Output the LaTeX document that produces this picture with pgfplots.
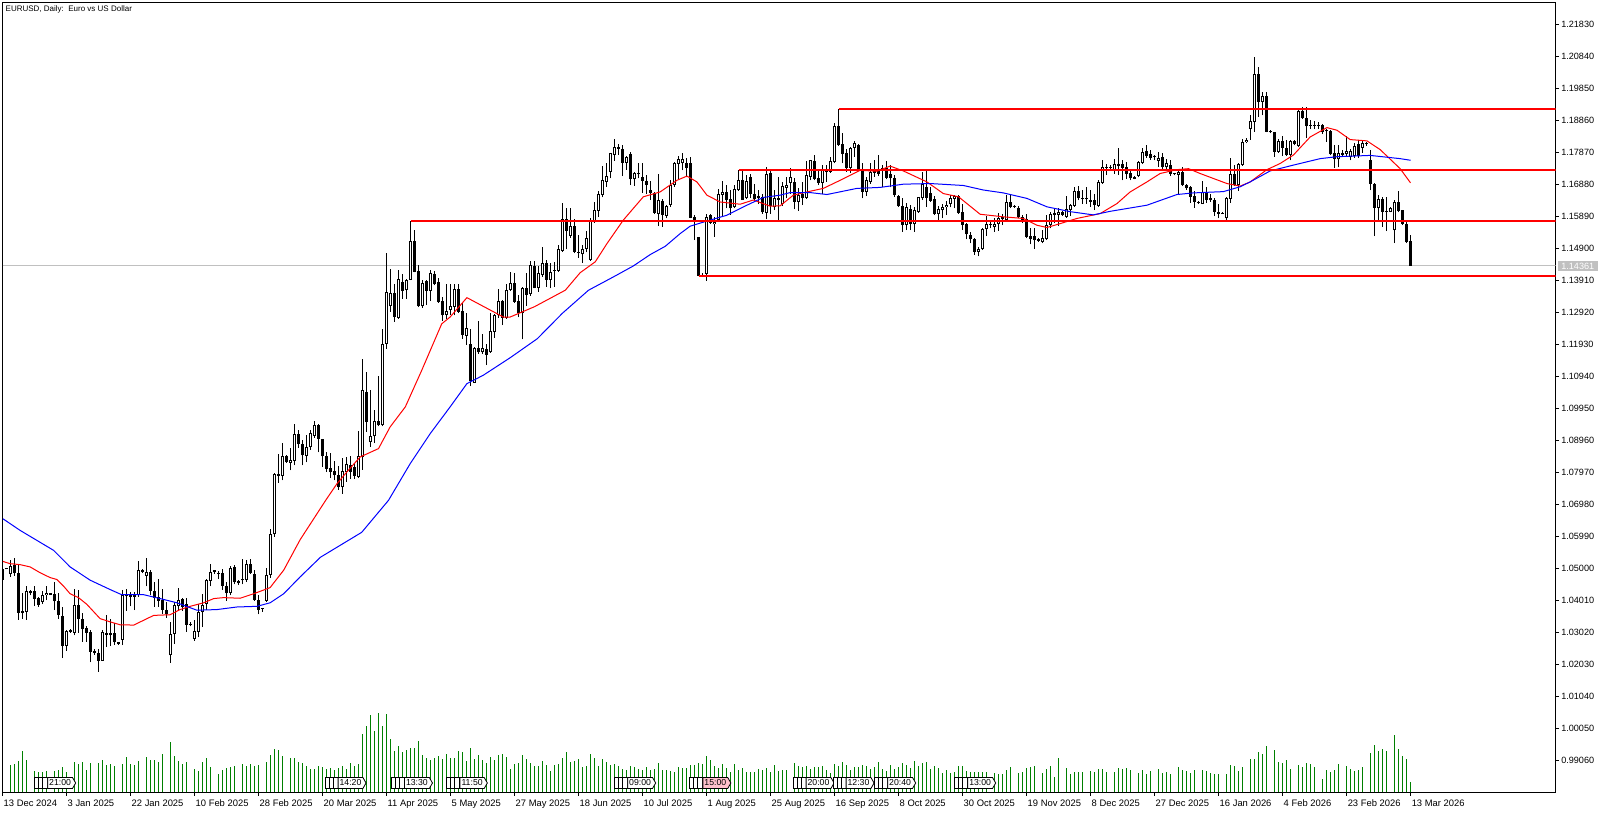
\documentclass[border=0pt]{standalone}
\usepackage{fontspec}
\setmainfont{Liberation Sans}
\usepackage{pgfplots}
\usepackage{pgfplotstable}
\pgfplotsset{compat=1.18}
\usetikzlibrary{shapes.symbols}
\definecolor{mtred}{RGB}{255,0,0}
\definecolor{mtblue}{RGB}{0,0,255}
\definecolor{mtgreen}{RGB}{0,128,0}
\definecolor{mtgray}{RGB}{192,192,192}
\definecolor{mtpink}{RGB}{255,192,203}
\pgfplotstableread{
i o h l c
0 1.0500 1.0507 1.0464 1.0466
1 1.0497 1.0503 1.0497 1.0503
2 1.0483 1.0526 1.0474 1.0509
3 1.0510 1.0534 1.0478 1.0486
4 1.0487 1.0510 1.0342 1.0363
5 1.0368 1.0424 1.0344 1.0363
6 1.0367 1.0447 1.0342 1.0429
7 1.0429 1.0435 1.0417 1.0423
8 1.0429 1.0445 1.0384 1.0406
9 1.0409 1.0412 1.0381 1.0387
10 1.0397 1.0429 1.0390 1.0419
11 1.0418 1.0445 1.0402 1.0425
12 1.0425 1.0425 1.0418 1.0418
13 1.0422 1.0459 1.0371 1.0398
14 1.0398 1.0424 1.0344 1.0356
15 1.0352 1.0381 1.0223 1.0260
16 1.0260 1.0309 1.0245 1.0306
17 1.0309 1.0314 1.0302 1.0304
18 1.0301 1.0436 1.0293 1.0388
19 1.0388 1.0433 1.0301 1.0344
20 1.0345 1.0363 1.0273 1.0314
21 1.0315 1.0321 1.0273 1.0301
22 1.0303 1.0311 1.0210 1.0242
23 1.0244 1.0250 1.0233 1.0239
24 1.0239 1.0252 1.0180 1.0214
25 1.0214 1.0309 1.0214 1.0303
26 1.0302 1.0355 1.0257 1.0295
27 1.0301 1.0345 1.0260 1.0293
28 1.0300 1.0332 1.0263 1.0272
29 1.0274 1.0274 1.0264 1.0266
30 1.0279 1.0435 1.0263 1.0419
31 1.0419 1.0436 1.0369 1.0414
32 1.0419 1.0428 1.0383 1.0413
33 1.0419 1.0428 1.0371 1.0413
34 1.0419 1.0522 1.0412 1.0495
35 1.0495 1.0500 1.0486 1.0490
36 1.0477 1.0534 1.0445 1.0488
37 1.0488 1.0495 1.0417 1.0431
38 1.0431 1.0458 1.0381 1.0410
39 1.0412 1.0469 1.0381 1.0400
40 1.0404 1.0438 1.0358 1.0373
41 1.0373 1.0397 1.0348 1.0358
42 1.0231 1.0336 1.0208 1.0297
43 1.0297 1.0397 1.0268 1.0386
44 1.0383 1.0441 1.0369 1.0404
45 1.0406 1.0410 1.0369 1.0381
46 1.0389 1.0410 1.0304 1.0326
47 1.0329 1.0335 1.0321 1.0325
48 1.0282 1.0340 1.0276 1.0308
49 1.0305 1.0389 1.0288 1.0365
50 1.0364 1.0422 1.0319 1.0387
51 1.0391 1.0468 1.0371 1.0464
52 1.0462 1.0515 1.0445 1.0490
53 1.0494 1.0495 1.0484 1.0490
54 1.0485 1.0492 1.0468 1.0483
55 1.0485 1.0500 1.0433 1.0446
56 1.0447 1.0457 1.0400 1.0424
57 1.0424 1.0507 1.0417 1.0503
58 1.0505 1.0510 1.0451 1.0458
59 1.0461 1.0466 1.0449 1.0454
60 1.0463 1.0528 1.0451 1.0466
61 1.0464 1.0525 1.0458 1.0515
62 1.0515 1.0528 1.0484 1.0486
63 1.0484 1.0495 1.0400 1.0402
64 1.0404 1.0419 1.0358 1.0373
65 1.0376 1.0377 1.0367 1.0375
66 1.0400 1.0503 1.0396 1.0481
67 1.0480 1.0623 1.0472 1.0608
68 1.0606 1.0795 1.0598 1.0791
69 1.0791 1.0853 1.0765 1.0786
70 1.0787 1.0889 1.0773 1.0847
71 1.0847 1.0850 1.0827 1.0829
72 1.0826 1.0874 1.0804 1.0835
73 1.0833 1.0948 1.0819 1.0917
74 1.0917 1.0930 1.0874 1.0884
75 1.0886 1.0897 1.0819 1.0850
76 1.0848 1.0912 1.0828 1.0875
77 1.0875 1.0930 1.0868 1.0920
78 1.0910 1.0956 1.0905 1.0945
79 1.0943 1.0946 1.0859 1.0901
80 1.0900 1.0902 1.0814 1.0847
81 1.0847 1.0861 1.0799 1.0808
82 1.0812 1.0858 1.0780 1.0798
83 1.0801 1.0832 1.0773 1.0788
84 1.0788 1.0818 1.0744 1.0752
85 1.0752 1.0843 1.0732 1.0801
86 1.0799 1.0845 1.0768 1.0824
87 1.0821 1.0849 1.0778 1.0799
88 1.0814 1.0824 1.0778 1.0787
89 1.0783 1.0924 1.0780 1.0847
90 1.0845 1.1147 1.0806 1.1051
91 1.1046 1.1107 1.0922 1.0953
92 1.0891 1.1051 1.0876 1.0909
93 1.0909 1.0991 1.0888 1.0955
94 1.0956 1.1095 1.0940 1.0943
95 1.0943 1.1242 1.0940 1.1196
96 1.1195 1.1476 1.1180 1.1357
97 1.1311 1.1426 1.1294 1.1351
98 1.1351 1.1379 1.1263 1.1278
99 1.1276 1.1425 1.1273 1.1397
100 1.1385 1.1410 1.1334 1.1358
101 1.1361 1.1397 1.1335 1.1392
102 1.1393 1.1575 1.1392 1.1512
103 1.1512 1.1548 1.1416 1.1418
104 1.1419 1.1440 1.1309 1.1312
105 1.1311 1.1394 1.1307 1.1384
106 1.1389 1.1394 1.1315 1.1358
107 1.1358 1.1425 1.1327 1.1415
108 1.1412 1.1419 1.1376 1.1379
109 1.1385 1.1400 1.1322 1.1324
110 1.1327 1.1340 1.1266 1.1283
111 1.1284 1.1381 1.1273 1.1296
112 1.1301 1.1379 1.1283 1.1313
113 1.1309 1.1379 1.1283 1.1366
114 1.1366 1.1379 1.1290 1.1294
115 1.1296 1.1322 1.1211 1.1222
116 1.1220 1.1292 1.1193 1.1245
117 1.1196 1.1242 1.1064 1.1080
118 1.1075 1.1185 1.1074 1.1183
119 1.1183 1.1265 1.1165 1.1169
120 1.1169 1.1227 1.1163 1.1183
121 1.1180 1.1196 1.1129 1.1161
122 1.1169 1.1290 1.1167 1.1236
123 1.1232 1.1288 1.1214 1.1283
124 1.1283 1.1364 1.1276 1.1327
125 1.1327 1.1330 1.1253 1.1276
126 1.1275 1.1381 1.1273 1.1361
127 1.1361 1.1418 1.1358 1.1384
128 1.1384 1.1413 1.1322 1.1325
129 1.1327 1.1346 1.1277 1.1289
130 1.1289 1.1370 1.1209 1.1367
131 1.1367 1.1413 1.1312 1.1346
132 1.1348 1.1452 1.1344 1.1439
133 1.1436 1.1452 1.1367 1.1367
134 1.1369 1.1436 1.1356 1.1413
135 1.1408 1.1495 1.1403 1.1444
136 1.1444 1.1454 1.1372 1.1394
137 1.1394 1.1444 1.1367 1.1418
138 1.1423 1.1449 1.1372 1.1419
139 1.1421 1.1501 1.1418 1.1487
140 1.1483 1.1632 1.1479 1.1580
141 1.1580 1.1614 1.1487 1.1544
142 1.1528 1.1614 1.1524 1.1559
143 1.1559 1.1580 1.1475 1.1479
144 1.1479 1.1531 1.1462 1.1477
145 1.1472 1.1500 1.1446 1.1490
146 1.1488 1.1544 1.1478 1.1522
147 1.1454 1.1585 1.1452 1.1574
148 1.1571 1.1634 1.1569 1.1609
149 1.1607 1.1668 1.1588 1.1658
150 1.1656 1.1745 1.1648 1.1701
151 1.1696 1.1755 1.1681 1.1714
152 1.1727 1.1787 1.1707 1.1787
153 1.1780 1.1830 1.1761 1.1805
154 1.1803 1.1813 1.1780 1.1799
155 1.1797 1.1810 1.1714 1.1755
156 1.1755 1.1776 1.1734 1.1772
157 1.1782 1.1789 1.1686 1.1704
158 1.1704 1.1727 1.1684 1.1725
159 1.1721 1.1755 1.1707 1.1719
160 1.1710 1.1753 1.1662 1.1699
161 1.1699 1.1717 1.1660 1.1687
162 1.1670 1.1699 1.1640 1.1662
163 1.1662 1.1665 1.1596 1.1600
164 1.1596 1.1722 1.1559 1.1640
165 1.1638 1.1644 1.1557 1.1593
166 1.1590 1.1624 1.1583 1.1621
167 1.1624 1.1703 1.1619 1.1688
168 1.1685 1.1758 1.1681 1.1753
169 1.1751 1.1776 1.1706 1.1768
170 1.1753 1.1787 1.1732 1.1768
171 1.1753 1.1770 1.1710 1.1740
172 1.1753 1.1772 1.1583 1.1585
173 1.1586 1.1593 1.1516 1.1572
174 1.1527 1.1527 1.1404 1.1405
175 1.1409 1.1413 1.1402 1.1405
176 1.1411 1.1596 1.1390 1.1586
177 1.1593 1.1596 1.1567 1.1570
178 1.1565 1.1588 1.1526 1.1572
179 1.1578 1.1673 1.1572 1.1660
180 1.1656 1.1698 1.1588 1.1664
181 1.1664 1.1686 1.1614 1.1640
182 1.1642 1.1670 1.1593 1.1614
183 1.1617 1.1686 1.1614 1.1673
184 1.1670 1.1732 1.1668 1.1703
185 1.1703 1.1732 1.1640 1.1640
186 1.1645 1.1717 1.1642 1.1700
187 1.1710 1.1722 1.1645 1.1658
188 1.1660 1.1691 1.1634 1.1643
189 1.1652 1.1670 1.1627 1.1645
190 1.1648 1.1660 1.1598 1.1602
191 1.1600 1.1743 1.1580 1.1720
192 1.1724 1.1732 1.1598 1.1620
193 1.1617 1.1671 1.1609 1.1645
194 1.1645 1.1710 1.1578 1.1640
195 1.1627 1.1696 1.1621 1.1683
196 1.1678 1.1710 1.1645 1.1686
197 1.1693 1.1738 1.1660 1.1710
198 1.1696 1.1707 1.1611 1.1634
199 1.1634 1.1676 1.1607 1.1657
200 1.1660 1.1696 1.1624 1.1645
201 1.1647 1.1761 1.1644 1.1717
202 1.1712 1.1765 1.1701 1.1763
203 1.1762 1.1779 1.1701 1.1706
204 1.1707 1.1734 1.1686 1.1693
205 1.1693 1.1747 1.1658 1.1732
206 1.1732 1.1748 1.1696 1.1727
207 1.1727 1.1774 1.1725 1.1760
208 1.1757 1.1879 1.1753 1.1869
209 1.1869 1.1921 1.1807 1.1810
210 1.1813 1.1846 1.1753 1.1782
211 1.1784 1.1797 1.1727 1.1738
212 1.1740 1.1803 1.1724 1.1802
213 1.1802 1.1822 1.1774 1.1815
214 1.1810 1.1813 1.1730 1.1734
215 1.1736 1.1755 1.1645 1.1665
216 1.1665 1.1710 1.1652 1.1701
217 1.1695 1.1753 1.1691 1.1727
218 1.1732 1.1763 1.1712 1.1725
219 1.1732 1.1779 1.1714 1.1722
220 1.1730 1.1748 1.1681 1.1738
221 1.1738 1.1760 1.1704 1.1709
222 1.1720 1.1748 1.1679 1.1708
223 1.1708 1.1717 1.1650 1.1655
224 1.1652 1.1655 1.1619 1.1621
225 1.1623 1.1647 1.1542 1.1562
226 1.1562 1.1631 1.1547 1.1617
227 1.1613 1.1624 1.1547 1.1567
228 1.1565 1.1617 1.1542 1.1609
229 1.1604 1.1650 1.1600 1.1648
230 1.1645 1.1727 1.1640 1.1691
231 1.1679 1.1730 1.1619 1.1647
232 1.1662 1.1679 1.1634 1.1638
233 1.1642 1.1652 1.1593 1.1596
234 1.1596 1.1621 1.1578 1.1612
235 1.1608 1.1627 1.1583 1.1619
236 1.1617 1.1637 1.1593 1.1624
237 1.1627 1.1655 1.1617 1.1646
238 1.1644 1.1657 1.1614 1.1652
239 1.1651 1.1655 1.1598 1.1600
240 1.1603 1.1627 1.1547 1.1563
241 1.1565 1.1570 1.1518 1.1534
242 1.1531 1.1542 1.1506 1.1518
243 1.1519 1.1521 1.1470 1.1480
244 1.1480 1.1495 1.1466 1.1488
245 1.1488 1.1552 1.1485 1.1549
246 1.1549 1.1590 1.1528 1.1565
247 1.1564 1.1573 1.1552 1.1562
248 1.1555 1.1583 1.1542 1.1565
249 1.1565 1.1600 1.1545 1.1583
250 1.1580 1.1598 1.1562 1.1586
251 1.1578 1.1655 1.1576 1.1633
252 1.1633 1.1655 1.1614 1.1619
253 1.1621 1.1625 1.1615 1.1619
254 1.1615 1.1621 1.1584 1.1586
255 1.1586 1.1593 1.1570 1.1578
256 1.1580 1.1598 1.1521 1.1526
257 1.1529 1.1552 1.1503 1.1519
258 1.1528 1.1552 1.1490 1.1516
259 1.1518 1.1524 1.1511 1.1514
260 1.1511 1.1547 1.1506 1.1522
261 1.1518 1.1593 1.1516 1.1563
262 1.1563 1.1604 1.1552 1.1598
263 1.1600 1.1614 1.1570 1.1593
264 1.1594 1.1614 1.1559 1.1603
265 1.1603 1.1606 1.1591 1.1595
266 1.1588 1.1652 1.1585 1.1611
267 1.1608 1.1629 1.1590 1.1624
268 1.1622 1.1681 1.1619 1.1667
269 1.1667 1.1683 1.1639 1.1645
270 1.1646 1.1670 1.1627 1.1644
271 1.1647 1.1679 1.1629 1.1643
272 1.1639 1.1672 1.1619 1.1634
273 1.1639 1.1658 1.1609 1.1624
274 1.1623 1.1701 1.1619 1.1695
275 1.1693 1.1763 1.1691 1.1742
276 1.1741 1.1751 1.1717 1.1739
277 1.1742 1.1749 1.1730 1.1740
278 1.1732 1.1768 1.1722 1.1750
279 1.1750 1.1802 1.1717 1.1745
280 1.1750 1.1763 1.1701 1.1740
281 1.1741 1.1758 1.1706 1.1720
282 1.1724 1.1737 1.1701 1.1707
283 1.1712 1.1714 1.1704 1.1706
284 1.1714 1.1761 1.1710 1.1757
285 1.1755 1.1802 1.1751 1.1790
286 1.1791 1.1810 1.1771 1.1776
287 1.1782 1.1794 1.1765 1.1771
288 1.1775 1.1780 1.1763 1.1773
289 1.1761 1.1789 1.1743 1.1771
290 1.1774 1.1786 1.1737 1.1741
291 1.1741 1.1766 1.1732 1.1753
292 1.1748 1.1763 1.1714 1.1719
293 1.1721 1.1724 1.1716 1.1719
294 1.1718 1.1737 1.1658 1.1727
295 1.1726 1.1743 1.1683 1.1686
296 1.1687 1.1691 1.1672 1.1676
297 1.1681 1.1683 1.1631 1.1650
298 1.1652 1.1668 1.1616 1.1634
299 1.1634 1.1637 1.1629 1.1632
300 1.1629 1.1698 1.1627 1.1665
301 1.1666 1.1681 1.1631 1.1641
302 1.1645 1.1658 1.1634 1.1639
303 1.1641 1.1645 1.1590 1.1603
304 1.1603 1.1627 1.1583 1.1598
305 1.1599 1.1604 1.1596 1.1597
306 1.1583 1.1648 1.1578 1.1645
307 1.1644 1.1769 1.1631 1.1719
308 1.1719 1.1748 1.1683 1.1686
309 1.1686 1.1755 1.1668 1.1751
310 1.1748 1.1830 1.1746 1.1821
311 1.1820 1.1833 1.1815 1.1827
312 1.1860 1.1902 1.1827 1.1883
313 1.1882 1.2081 1.1851 1.2029
314 1.2031 1.2050 1.1897 1.1944
315 1.1943 1.1975 1.1902 1.1963
316 1.1963 1.1975 1.1849 1.1851
317 1.1854 1.1856 1.1846 1.1849
318 1.1849 1.1851 1.1774 1.1789
319 1.1789 1.1830 1.1786 1.1822
320 1.1823 1.1837 1.1776 1.1802
321 1.1802 1.1827 1.1776 1.1780
322 1.1779 1.1827 1.1763 1.1822
323 1.1823 1.1827 1.1809 1.1813
324 1.1807 1.1923 1.1804 1.1914
325 1.1916 1.1928 1.1890 1.1894
326 1.1895 1.1928 1.1833 1.1868
327 1.1871 1.1889 1.1861 1.1869
328 1.1872 1.1885 1.1861 1.1870
329 1.1872 1.1882 1.1861 1.1870
330 1.1872 1.1875 1.1844 1.1851
331 1.1854 1.1861 1.1820 1.1852
332 1.1853 1.1858 1.1778 1.1782
333 1.1784 1.1810 1.1740 1.1766
334 1.1766 1.1810 1.1741 1.1787
335 1.1787 1.1794 1.1773 1.1778
336 1.1782 1.1837 1.1776 1.1791
337 1.1773 1.1799 1.1763 1.1792
338 1.1776 1.1815 1.1771 1.1806
339 1.1813 1.1825 1.1771 1.1776
340 1.1801 1.1825 1.1786 1.1817
341 1.1814 1.1818 1.1807 1.1812
342 1.1765 1.1796 1.1670 1.1689
343 1.1691 1.1693 1.1528 1.1616
344 1.1616 1.1655 1.1575 1.1643
345 1.1643 1.1650 1.1557 1.1603
346 1.1605 1.1648 1.1544 1.1603
347 1.1603 1.1619 1.1602 1.1616
348 1.1546 1.1639 1.1507 1.1633
349 1.1633 1.1667 1.1602 1.1606
350 1.1608 1.1610 1.1562 1.1567
351 1.1565 1.1572 1.1507 1.1510
352 1.1513 1.1531 1.1436 1.1436
}\ohlc
\pgfplotstableread{
i v
0 0
1 0
2 27
3 28
4 31
5 41
6 32
7 0
8 21
9 20
10 20
11 21
12 0
13 21
14 22
15 25
16 20
17 0
18 30
19 28
20 30
21 22
22 29
23 0
24 29
25 32
26 27
27 28
28 26
29 0
30 28
31 35
32 28
33 27
34 31
35 0
36 35
37 32
38 32
39 30
40 38
41 0
42 50
43 36
44 31
45 28
46 30
47 0
48 23
49 21
50 30
51 34
52 25
53 0
54 18
55 22
56 24
57 25
58 26
59 0
60 28
61 26
62 28
63 26
64 27
65 0
66 30
67 37
68 43
69 42
70 36
71 0
72 34
73 34
74 30
75 29
76 26
77 23
78 23
79 26
80 25
81 23
82 24
83 22
84 24
85 26
86 23
87 29
88 26
89 28
90 58
91 66
92 77
93 61
94 79
95 66
96 78
97 53
98 41
99 46
100 40
101 42
102 44
103 44
104 51
105 37
106 34
107 32
108 34
109 36
110 33
111 38
112 34
113 34
114 41
115 40
116 31
117 44
118 33
119 37
120 32
121 29
122 35
123 32
124 37
125 38
126 35
127 23
128 28
129 29
130 37
131 33
132 29
133 26
134 26
135 31
136 27
137 21
138 27
139 28
140 34
141 40
142 30
143 31
144 33
145 25
146 26
147 38
148 34
149 26
150 33
151 30
152 27
153 28
154 26
155 23
156 22
157 26
158 25
159 23
160 22
161 25
162 22
163 23
164 29
165 22
166 22
167 21
168 20
169 25
170 24
171 24
172 27
173 27
174 29
175 28
176 36
177 32
178 26
179 24
180 28
181 24
182 20
183 28
184 22
185 24
186 20
187 20
188 20
189 23
190 22
191 24
192 20
193 27
194 21
195 22
196 22
197 0
198 29
199 26
200 25
201 26
202 23
203 25
204 25
205 26
206 22
207 19
208 28
209 26
210 30
211 27
212 22
213 25
214 25
215 27
216 26
217 23
218 25
219 30
220 23
221 21
222 27
223 23
224 25
225 29
226 27
227 24
228 31
229 26
230 29
231 30
232 23
233 26
234 24
235 19
236 22
237 19
238 20
239 26
240 26
241 21
242 20
243 20
244 20
245 20
246 20
247 0
248 19
249 18
250 18
251 22
252 25
253 0
254 19
255 20
256 24
257 25
258 26
259 0
260 19
261 23
262 26
263 15
264 34
265 0
266 24
267 18
268 20
269 20
270 20
271 0
272 21
273 20
274 23
275 23
276 20
277 0
278 20
279 24
280 23
281 24
282 22
283 0
284 19
285 22
286 18
287 21
288 0
289 23
290 19
291 20
292 18
293 0
294 25
295 22
296 21
297 19
298 22
299 0
300 22
301 21
302 19
303 18
304 18
305 0
306 18
307 27
308 26
309 21
310 25
311 0
312 33
313 33
314 40
315 38
316 46
317 0
318 42
319 30
320 29
321 32
322 23
323 0
324 27
325 25
326 29
327 28
328 25
329 0
330 13
331 22
332 20
333 22
334 28
335 0
336 26
337 23
338 21
339 22
340 25
341 0
342 39
343 47
344 41
345 43
346 41
347 0
348 57
349 43
350 36
351 33
352 10
}\vol
\newcommand{\evt}[3]{%
  \node[evtbit] at (axis cs:#1,9.5) [xshift=-23pt] {};
  \node[evtbit] at (axis cs:#1,9.5) [xshift=-19pt] {};
  \node[evtbit] at (axis cs:#1,9.5) [xshift=-15pt] {};
  \node[evtbox,fill=#3] at (axis cs:#1,9.5) {#2};
}
\begin{document}
\begin{tikzpicture}[x=1pt,y=1pt,
  evtbit/.style={draw=black,fill=white,line width=0.8pt,minimum width=5pt,minimum height=11pt,inner sep=0pt},
  evtbox/.style={draw=black,line width=0.8pt,signal,signal to=east,signal pointer angle=120,minimum height=11pt,inner xsep=1.5pt,inner ysep=0pt,font=\fontsize{8.7}{9}\selectfont}]
\path[use as bounding box] (0,0) rectangle (1608,813);
\begin{axis}[
  at={(2.5pt,20.5pt)},anchor=south west,
  scale only axis,width=1553pt,height=790pt,
  xmin=0,xmax=388.25,ymin=0.98071,ymax=1.22511,
  clip mode=individual,
  axis line style={black,line width=1pt},
  tick style={black,line width=1pt},
  tick align=outside,major tick length=3.5pt,
  xtick pos=bottom,ytick pos=right,yticklabel pos=right,
  xtick={0,16,...,352},
  xticklabels={13 Dec 2024,3 Jan 2025,22 Jan 2025,10 Feb 2025,28 Feb 2025,20 Mar 2025,11 Apr 2025,5 May 2025,27 May 2025,18 Jun 2025,10 Jul 2025,1 Aug 2025,25 Aug 2025,16 Sep 2025,8 Oct 2025,30 Oct 2025,19 Nov 2025,8 Dec 2025,27 Dec 2025,16 Jan 2026,4 Feb 2026,23 Feb 2026,13 Mar 2026},
  xticklabel style={anchor=north west,inner sep=0pt,text height=7pt,text depth=2pt,xshift=1pt,yshift=-3pt,font=\fontsize{9.4}{10}\selectfont},
  ytick={1.2183,1.2084,1.1985,1.1886,1.1787,1.1688,1.1589,1.1490,1.1391,1.1292,1.1193,1.1094,1.0995,1.0896,1.0797,1.0698,1.0599,1.0500,1.0401,1.0302,1.0203,1.0104,1.0005,0.9906},
  yticklabel style={anchor=west,inner sep=0pt,xshift=2pt,font=\fontsize{9.1}{10}\selectfont,/pgf/number format/fixed,/pgf/number format/zerofill,/pgf/number format/precision=5,/pgf/number format/assume math mode=true},
  scaled y ticks=false,
  every arrow/.style={-},
]
\addplot[mtgray,line width=1pt,forget plot] coordinates {(0,1.14361) (388.25,1.14361)};
% wicks
\addplot[black,line width=1pt,line cap=butt,mark=none,forget plot,quiver={u=0,v=\thisrow{h}-\thisrow{l}}]
  table[x=i,y=l] {\ohlc};
% bodies
\addplot[black,line width=3pt,line cap=butt,mark=none,forget plot,quiver={u=0,v={max(abs(\thisrow{c}-\thisrow{o}),0.00031)}}]
  table[x=i,y expr={min(\thisrow{o},\thisrow{c})}] {\ohlc};
% hollow centre of rising candles
\addplot[white,line width=1pt,line cap=butt,mark=none,forget plot,quiver={u=0,v={max(\thisrow{c}-\thisrow{o}-0.00062,0)}}]
  table[x=i,y expr={\thisrow{o}+0.00031}] {\ohlc};
% moving averages
\addplot[mtred,line width=1pt,forget plot] coordinates {
(0.1,1.0522)(1.9,1.0515)(4.4,1.0512)(6.9,1.0505)(9.4,1.0487)(11.9,1.0472)(13.6,1.0466)(15.3,1.0445)(16.9,1.0422)(19,1.0410)(21.1,1.0389)(23.2,1.0361)(24.4,1.0345)(26.9,1.0335)(29.4,1.0326)(32.8,1.0325)(35.3,1.0340)(37.8,1.0355)(41.9,1.0357)(44.4,1.0373)(46.9,1.0383)(50.3,1.0394)(52.8,1.0407)(55.3,1.0410)(59.4,1.0408)(62.8,1.0422)(66.9,1.0441)(70.3,1.0495)(74.4,1.0589)(80.9,1.0713)(83.6,1.0762)(86.1,1.0799)(89.4,1.0845)(94,1.0871)(96.9,1.0938)(100.7,1.1000)(104.8,1.1113)(109.8,1.1257)(111.9,1.1278)(116.1,1.1338)(120.2,1.1311)(125.2,1.1278)(126.9,1.1278)(133,1.1310)(140.7,1.1361)(144.4,1.1415)(148.2,1.1449)(151.1,1.1505)(155.2,1.1578)(160.2,1.1650)(164.4,1.1665)(168.6,1.1701)(171.1,1.1714)(173.6,1.1696)(176.1,1.1655)(179.4,1.1634)(184.4,1.1627)(187.7,1.1640)(191.9,1.1621)(194.4,1.1622)(197.7,1.1655)(201.1,1.1665)(205.2,1.1676)(209.4,1.1701)(214.4,1.1732)(218.6,1.1729)(221.9,1.1745)(225.2,1.1730)(231.1,1.1696)(235.2,1.1660)(239,1.1650)(244.4,1.1596)(250.2,1.1588)(255.2,1.1583)(258.6,1.1562)(261.1,1.1555)(264.4,1.1567)(268.6,1.1583)(274.4,1.1598)(278.6,1.1629)(281.9,1.1665)(286.1,1.1696)(289.4,1.1722)(293.6,1.1734)(296.5,1.1737)(299.4,1.1722)(306.1,1.1691)(309.4,1.1683)(311.9,1.1696)(316.1,1.1734)(319.4,1.1753)(322.7,1.1779)(326.9,1.1835)(331.1,1.1864)(333.6,1.1856)(336.9,1.1827)(341.1,1.1823)(344.4,1.1796)(349.4,1.1737)(352,1.1693)};
\addplot[mtblue,line width=1pt,forget plot] coordinates {
(0.1,1.0654)(4.4,1.0618)(8.6,1.0587)(12.8,1.0556)(16.9,1.0505)(21.9,1.0464)(26.9,1.0435)(29.8,1.0419)(35.3,1.0419)(39.4,1.0407)(43.6,1.0394)(48.6,1.0371)(53.6,1.0373)(58.6,1.0381)(63.6,1.0383)(66.9,1.0394)(70.3,1.0422)(74.4,1.0474)(79.5,1.0535)(89.8,1.0612)(96.5,1.0711)(101.9,1.0824)(106.9,1.0917)(111.9,1.1000)(116.1,1.1072)(120.2,1.1098)(126.9,1.1152)(133.7,1.1211)(140,1.1290)(146.5,1.1361)(152.7,1.1402)(157.7,1.1436)(161.9,1.1471)(165.7,1.1497)(169.4,1.1536)(171.9,1.1559)(176.1,1.1575)(181.1,1.1593)(186.1,1.1624)(190.2,1.1648)(194.4,1.1655)(196.9,1.1663)(201.9,1.1663)(206.1,1.1657)(213.6,1.1676)(219.4,1.1679)(225.2,1.1689)(231.9,1.1691)(240.2,1.1685)(245.2,1.1671)(250.2,1.1662)(256.1,1.1645)(261.1,1.1619)(266.9,1.1604)(272.7,1.1594)(276.9,1.1605)(286.1,1.1624)(293.6,1.1657)(297.7,1.1662)(305.2,1.1666)(309.4,1.1681)(311.9,1.1696)(316.9,1.1730)(322.7,1.1748)(329.4,1.1768)(333.6,1.1774)(341.9,1.1778)(349.4,1.1768)(352,1.1763)};
% horizontal levels
\addplot[mtred,line width=2pt,forget plot] coordinates {(209,1.1921)(388.25,1.1921)};
\addplot[mtred,line width=2pt,forget plot] coordinates {(184,1.1732)(388.25,1.1732)};
\addplot[mtred,line width=2pt,forget plot] coordinates {(102,1.1575)(388.25,1.1575)};
\addplot[mtred,line width=2pt,forget plot] coordinates {(174,1.1405)(388.25,1.1405)};
\node[anchor=north west,inner sep=0pt,font=\fontsize{8}{10}\selectfont] at (rel axis cs:0,1) [xshift=3pt,yshift=-3pt] {EURUSD, Daily:\ \ Euro vs US Dollar};
\node[fill=mtgray,text=white,inner xsep=3.5pt,inner ysep=1.5pt,font=\fontsize{9.1}{10}\selectfont] at (axis cs:393.8,1.14361) {1.14361};
\end{axis}
\begin{axis}[
  at={(2.5pt,20.5pt)},anchor=south west,
  scale only axis,width=1553pt,height=790pt,
  xmin=0,xmax=388.25,ymin=0,ymax=790,
  hide axis,clip=false,
]
\addplot[ycomb,mtgreen,line width=1pt,no marks,forget plot] table[x=i,y=v] {\vol};
\evt{14.4}{21:00}{white}
\evt{87}{14:20}{white}
\evt{103.6}{13:30}{white}
\evt{117.4}{11:50}{white}
\evt{159.4}{09:00}{white}
\evt{178.2}{15:00}{mtpink}
\evt{204}{20:00}{white}
\evt{214}{12:30}{white}
\evt{224.4}{20:40}{white}
\evt{244.4}{13:00}{white}
\end{axis}
\end{tikzpicture}
\end{document}
